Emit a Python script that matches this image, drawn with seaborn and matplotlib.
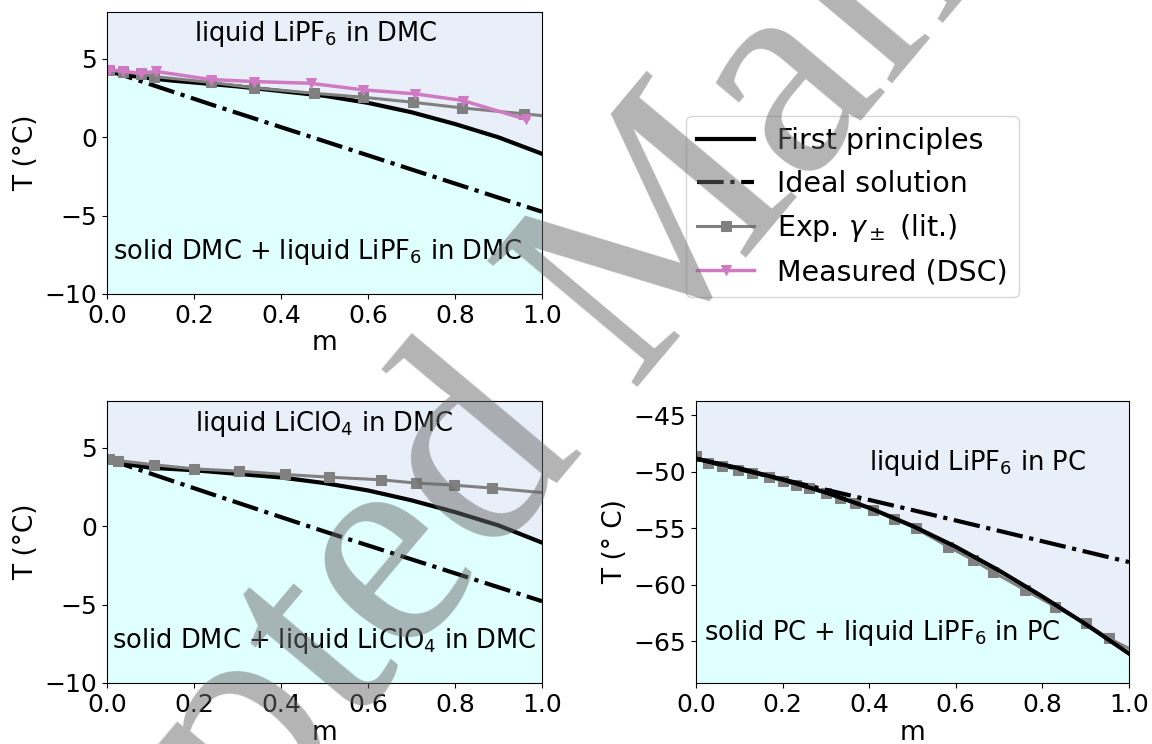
import numpy as np
import pandas as pd
import matplotlib
matplotlib.use("Agg")
import matplotlib.pyplot as plt
import seaborn as sns

# ============================================================
# DATA
# ============================================================

# first principles (black) - DMC panels
m_fp = [0.0, 0.02, 0.05, 0.1, 0.15, 0.2, 0.3, 0.4, 0.5, 0.6, 0.7, 0.8, 0.9, 1.0]
T_fp_lipf6_dmc = [4.3, 4.1, 3.95, 3.77, 3.62, 3.5, 3.25, 2.95, 2.65, 2.2, 1.6, 0.85, 0.0, -1.05]
T_fp_liclo4_dmc = [4.3, 4.1, 3.95, 3.74, 3.66, 3.58, 3.35, 3.12, 2.76, 2.29, 1.66, 0.91, 0.06, -1.04]

# ideal solution (dash-dot)
m_ideal = [0.0, 0.25, 0.5, 0.75, 1.0]
T_ideal_lipf6_dmc = [4.3, 2.0, -0.25, -2.5, -4.75]
T_ideal_liclo4_dmc = [4.3, 1.97, -0.33, -2.55, -4.78]
T_ideal_lipf6_pc = [-48.85, -51.15, -53.4, -55.7, -58.0]

# experimental gamma (lit.) - gray squares
m_exp_lipf6_dmc = [0.004, 0.037, 0.078, 0.108, 0.238, 0.339, 0.477, 0.589, 0.703, 0.815, 0.959, 1.1]
T_exp_lipf6_dmc = [4.3, 4.19, 4.05, 3.88, 3.51, 3.16, 2.81, 2.56, 2.24, 1.88, 1.5, 1.1]

m_exp_liclo4_dmc = [0.004, 0.025, 0.108, 0.201, 0.304, 0.409, 0.510, 0.630, 0.711, 0.797, 0.886, 1.1]
T_exp_liclo4_dmc = [4.27, 4.2, 3.93, 3.67, 3.52, 3.31, 3.14, 2.97, 2.76, 2.63, 2.44, 1.9]

# measured DSC - pink triangles
m_dsc = [0.004, 0.037, 0.078, 0.112, 0.238, 0.339, 0.468, 0.589, 0.707, 0.818, 0.964]
T_dsc = [4.32, 4.21, 4.09, 4.21, 3.69, 3.56, 3.45, 3.03, 2.78, 2.35, 1.14]

# PC panel
m_fp_pc = [0.0, 0.1, 0.2, 0.3, 0.4, 0.5, 0.6, 0.7, 0.8, 0.9, 0.95, 1.0]
T_fp_pc = [-48.85, -49.7, -50.7, -51.85, -53.2, -54.8, -56.65, -58.75, -61.05, -63.5, -64.8, -66.1]

m_exp_pc = [0.0, 0.027, 0.06, 0.098, 0.13, 0.168, 0.2, 0.23, 0.26, 0.3, 0.333, 0.367,
            0.408, 0.458, 0.507, 0.582, 0.64, 0.685, 0.76, 0.83, 0.9, 0.954, 1.05]
T_exp_pc = [-48.6, -49.23, -49.47, -49.82, -50.12, -50.47, -50.86, -51.15, -51.45, -51.9,
            -52.34, -52.78, -53.37, -54.2, -55.0, -56.63, -57.81, -58.85, -60.47, -61.95,
            -63.43, -64.76, -66.6]

LIQ = "#E9EFF9"
SOL = "#E0FFFF"
PINK = "#D17AC4"

plt.rcParams["font.family"] = ["DejaVu Sans"]

fig = plt.figure(figsize=(11.52, 7.44), dpi=100)

ax1 = fig.add_axes([107 / 1152, 1 - 294 / 744, 435 / 1152, 282 / 744])
ax2 = fig.add_axes([107 / 1152, 1 - 683 / 744, 435 / 1152, 282 / 744])
ax3 = fig.add_axes([696 / 1152, 1 - 683 / 744, 433 / 1152, 282 / 744])


def phase_fill(ax, m, T, lo, hi):
    ax.fill_between(m, T, hi, color=LIQ, lw=0, zorder=0)
    ax.fill_between(m, lo, T, color=SOL, lw=0, zorder=0)
    ax.set_xlim(0, 1)
    ax.set_ylim(lo, hi)


def line(ax, x, y, **kw):
    sns.lineplot(x=x, y=y, ax=ax, legend=False, sort=False, **kw)


# ---------------- LiPF6 in DMC ----------------
phase_fill(ax1, m_fp, T_fp_lipf6_dmc, -10, 8)
line(ax1, m_fp, T_fp_lipf6_dmc, color="black", lw=3, label="First principles")
line(ax1, m_ideal, T_ideal_lipf6_dmc, color="black", lw=3, linestyle="-.",
     label="Ideal solution")
line(ax1, m_exp_lipf6_dmc, T_exp_lipf6_dmc, color="gray", lw=2.2, marker="s",
     markersize=6.5, markeredgecolor="gray", label=r"Exp. $\gamma_\pm$ (lit.)")
line(ax1, m_dsc, T_dsc, color=PINK, lw=2.5, marker="v", markersize=7.5,
     markeredgecolor=PINK, label="Measured (DSC)")
ax1.text(0.48, 6.6, r"liquid LiPF$_6$ in DMC", ha="center", va="center", fontsize=18.5)
ax1.text(0.485, -7.3, r"solid DMC + liquid LiPF$_6$ in DMC", ha="center", va="center",
         fontsize=18.5)
ax1.set_ylabel("T (°C)", fontsize=19)

# ---------------- LiClO4 in DMC ----------------
phase_fill(ax2, m_fp, T_fp_liclo4_dmc, -10, 8)
line(ax2, m_fp, T_fp_liclo4_dmc, color="black", lw=3)
line(ax2, m_ideal, T_ideal_liclo4_dmc, color="black", lw=3, linestyle="-.")
line(ax2, m_exp_liclo4_dmc, T_exp_liclo4_dmc, color="gray", lw=2.2, marker="s",
     markersize=6.5, markeredgecolor="gray")
ax2.text(0.5, 6.55, r"liquid LiClO$_4$ in DMC", ha="center", va="center", fontsize=18.5)
ax2.text(0.5, -7.35, r"solid DMC + liquid LiClO$_4$ in DMC", ha="center", va="center",
         fontsize=18.5)
ax2.set_ylabel("T (°C)", fontsize=19)

# ---------------- LiPF6 in PC ----------------
phase_fill(ax3, m_fp_pc, T_fp_pc, -68.7, -43.75)
line(ax3, m_exp_pc, T_exp_pc, color="gray", lw=2.2, marker="s", markersize=6.5,
     markeredgecolor="gray")
line(ax3, m_fp_pc, T_fp_pc, color="black", lw=3)
line(ax3, m_ideal, T_ideal_lipf6_pc, color="black", lw=3, linestyle="-.")
ax3.text(0.65, -49.2, r"liquid LiPF$_6$ in PC", ha="center", va="center", fontsize=18.5)
ax3.text(0.43, -64.3, r"solid PC + liquid LiPF$_6$ in PC", ha="center", va="center",
         fontsize=18.5)
ax3.set_ylabel("T (° C)", fontsize=19)

for ax in (ax1, ax2, ax3):
    ax.set_xlabel("m", fontsize=19, labelpad=2)
    ax.set_xticks([0, 0.2, 0.4, 0.6, 0.8, 1.0])
    ax.tick_params(labelsize=18)

handles, labels = ax1.get_legend_handles_labels()
fig.legend(handles, labels, loc="upper left", bbox_to_anchor=(686 / 1152, 1 - 116 / 744),
           borderaxespad=0, fontsize=20.5)

# watermark
fig.text(628 / 1152, 1 - 287 / 744, "Accepted Manuscript", rotation=50,
         rotation_mode="anchor", ha="center", va="center", fontsize=215,
         family="Liberation Serif", color="#6a6a6a", alpha=0.5, zorder=10)

fig.savefig("out.png", dpi=100)
